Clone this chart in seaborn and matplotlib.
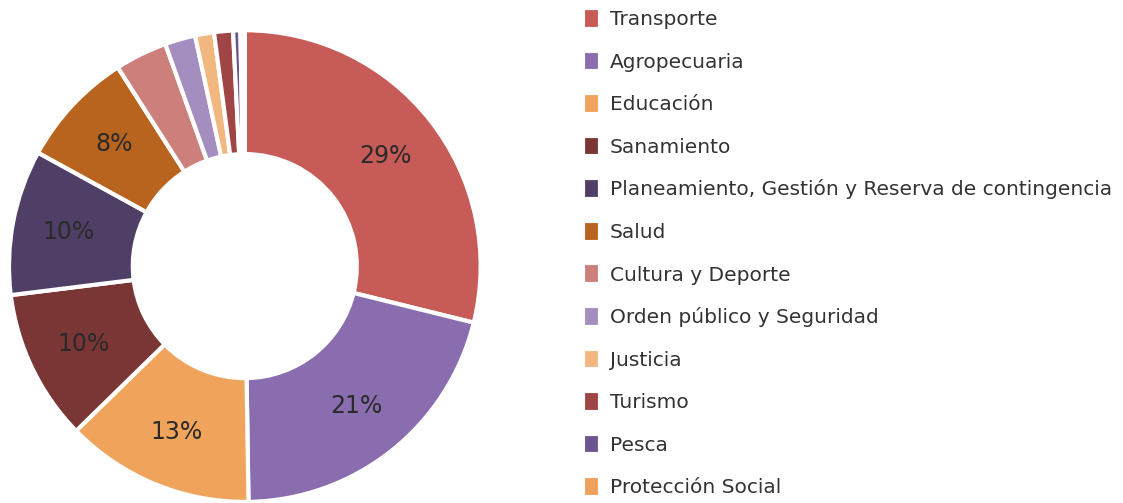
import matplotlib
matplotlib.use("Agg")
import matplotlib.pyplot as plt
import seaborn as sns
import numpy as np

categories = ["Transporte", "Agropecuaria", "Educación", "Sanamiento",
              "Planeamiento, Gestión y Reserva de contingencia", "Salud",
              "Cultura y Deporte", "Orden público y Seguridad", "Justicia",
              "Turismo", "Pesca", "Protección Social"]
values = [29.0, 21.0, 13.0, 10.4, 10.0, 8.0, 3.6, 2.1, 1.3, 1.3, 0.5, 0.3]
colors = ["#C65B58", "#8A6DAE", "#F0A45B", "#7A3535", "#4F3F67", "#B8641F",
          "#CD7F7B", "#A48DBF", "#F2B67F", "#A04545", "#6B5590", "#EFA05C"]
pct_labels = ["29%", "21%", "13%", "10%", "10%", "8%", "", "", "", "", "", ""]

sns.set_theme(style="white")
plt.rcParams["font.family"] = ["DejaVu Sans"]

fig = plt.figure(figsize=(11.23, 5.03), dpi=100)
ax = fig.add_axes([0.008, 0.002, 0.42, 0.938])
palette = sns.color_palette(colors)
wedges, _ = ax.pie(values, colors=palette, startangle=90, counterclock=False,
                   radius=1.0,
                   wedgeprops=dict(width=0.525, edgecolor="white", linewidth=3))
cum = np.cumsum([0] + values)
total = sum(values)
for i, lab in enumerate(pct_labels):
    if not lab:
        continue
    mid = (cum[i] + cum[i + 1]) / 2 / total
    ang = np.deg2rad(90 - 360 * mid)
    r = 0.76
    ax.text(r * np.cos(ang), r * np.sin(ang), lab, ha="center", va="center",
            fontsize=17, color="#2a2a2a")
ax.set_xlim(-1, 1)
ax.set_ylim(-1, 1)
ax.set_aspect("equal")
ax.axis("off")

fig.legend(wedges, categories, loc="upper left", bbox_to_anchor=(0.519, 0.984),
           frameon=False, fontsize=14.5, handlelength=0.85, handleheight=1.2,
           handletextpad=0.5, labelspacing=1.065, borderpad=0, borderaxespad=0,
           labelcolor="#333333")

fig.savefig("out.png", dpi=100, facecolor="white")
